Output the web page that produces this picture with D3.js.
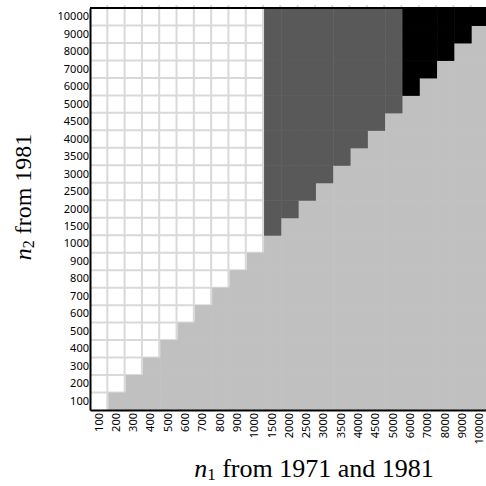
<!DOCTYPE html>
<html>
<head>
<meta charset="utf-8">
<script src="https://cdn.jsdelivr.net/npm/d3@7"></script>
<style>
  body { margin: 0; background: #fff; }
  .tick text { font-family: "Noto Sans", sans-serif; font-size: 11px; fill: #000; }
  .title { font-family: "Liberation Serif", "Times New Roman", serif; fill: #000; }
</style>
</head>
<body>
<div id="chart"></div>
<script>
// sample sizes on both axes
var sizes = ["100","200","300","400","500","600","700","800","900","1000",
             "1500","2000","2500","3000","3500","4000","4500","5000",
             "6000","7000","8000","9000","10000"];

// category of each group of n1 columns (used above the diagonal)
var zoneEnds = [1000, 5000, 10000];
var zoneColors = ["#ffffff", "#595959", "#000000"];
var belowColor = "#c0c0c0";

var svgWidth = 486, svgHeight = 486;
var margin = { top: 8, right: -2, bottom: 76, left: 90 };
var width = svgWidth - margin.left - margin.right;
var height = svgHeight - margin.top - margin.bottom;

var svg = d3.select("#chart").append("svg")
    .attr("width", svgWidth)
    .attr("height", svgHeight);

var g = svg.append("g")
    .attr("transform", `translate(${margin.left},${margin.top})`);

var x = d3.scaleBand().domain(sizes).range([0, width]);
var y = d3.scaleBand().domain(sizes).range([height, 0]);

// build cells
var cells = [];
sizes.forEach((sx, i) => {
    sizes.forEach((sy, j) => {
        var fill;
        if (i > j) fill = belowColor;
        else {
            var z = zoneEnds.findIndex(e => +sx <= e);
            fill = zoneColors[z];
        }
        cells.push({ n1: sx, n2: sy, fill: fill });
    });
});

// grid lines (visible only in white area)
g.append("g").selectAll("line.v")
    .data(sizes.slice(1))
    .enter().append("line")
    .attr("x1", d => x(d)).attr("x2", d => x(d))
    .attr("y1", -3).attr("y2", height)
    .attr("stroke", "#d9d9d9").attr("stroke-width", 2);

g.append("g").selectAll("line.h")
    .data(sizes.slice(1))
    .enter().append("line")
    .attr("y1", d => y(d) + y.bandwidth()).attr("y2", d => y(d) + y.bandwidth())
    .attr("x1", 0).attr("x2", width)
    .attr("stroke", "#d9d9d9").attr("stroke-width", 2);

// coloured cells
g.append("g").selectAll("rect")
    .data(cells.filter(d => d.fill != "#ffffff"))
    .enter().append("rect")
    .attr("x", d => x(d.n1) + 1)
    .attr("y", d => y(d.n2))
    .attr("width", x.bandwidth() + 0.5)
    .attr("height", y.bandwidth() + 0.5)
    .attr("fill", d => d.fill);

// top border
g.append("line")
    .attr("x1", 0).attr("x2", width)
    .attr("y1", 0).attr("y2", 0)
    .attr("stroke", "#000").attr("stroke-width", 2);

// axes
var xAxis = g.append("g")
    .attr("transform", `translate(0,${height})`)
    .call(d3.axisBottom(x).tickSize(0).tickPadding(0));
xAxis.select(".domain").attr("stroke-width", 2);
xAxis.selectAll(".tick text")
    .attr("transform", "rotate(-90)")
    .attr("text-anchor", "end")
    .attr("x", -3)
    .attr("y", 0)
    .attr("dy", "0.35em");

var yAxis = g.append("g")
    .call(d3.axisLeft(y).tickSize(0).tickPadding(1));
yAxis.select(".domain").attr("stroke-width", 2);

// axis titles
var xt = svg.append("text")
    .attr("class", "title")
    .attr("font-size", "26px")
    .attr("x", 314)
    .attr("y", 477)
    .attr("text-anchor", "middle");
xt.append("tspan").attr("font-style", "italic").text("n");
xt.append("tspan").attr("font-size", "17px").attr("dy", 3).text("1");
xt.append("tspan").attr("dy", -3).text(" from 1971 and 1981");

var yt = svg.append("text")
    .attr("class", "title")
    .attr("font-size", "24px")
    .attr("transform", `translate(31,197) rotate(-90)`)
    .attr("text-anchor", "middle");
yt.append("tspan").attr("font-style", "italic").text("n");
yt.append("tspan").attr("font-size", "16px").attr("dy", 3).text("2");
yt.append("tspan").attr("dy", -3).text(" from 1981");
</script>
</body>
</html>
